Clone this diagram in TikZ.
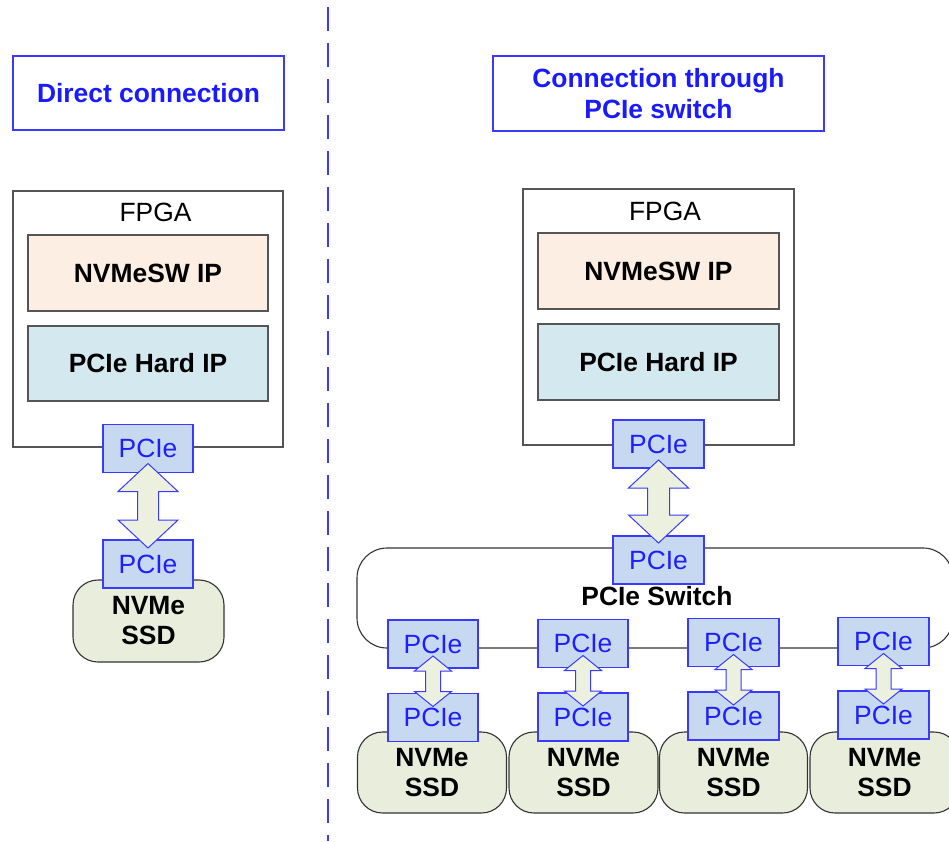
\documentclass[tikz,border=0pt]{standalone}
\usepackage{fontspec}
\setmainfont{Liberation Sans}
\usetikzlibrary{calc}
\definecolor{pciefill}{HTML}{C6D9F1}
\definecolor{pcieline}{HTML}{3A3AFF}
\definecolor{pcietext}{HTML}{1E1EFF}
\definecolor{arrfill}{HTML}{EBF1DE}
\definecolor{ssdfill}{HTML}{E9EEDC}
\definecolor{swfill}{HTML}{FDEEE3}
\definecolor{hardfill}{HTML}{D3E9EF}
\definecolor{titleblue}{HTML}{1A1AFF}
\definecolor{boxgray}{HTML}{555555}
\newcommand\biarrow[7]{%
  \path (#1.south) ++(0,-#3) coordinate (ta) (#2.north) ++(0,#4) coordinate (tb);
  \draw[arr] (ta) -- ++(#5,#7) -- ++(#6-#5,0) -- ($(tb)+(#6,-#7)$) -- ++(#5-#6,0) -- (tb)
    -- ++(-#5,-#7) -- ++(#5-#6,0) -- ($(ta)+(-#6,#7)$) -- ++(#6-#5,0) -- cycle;}
\tikzset{
  every node/.style={font=\fontsize{26.4}{31}\selectfont, inner sep=0pt, outer sep=0pt},
  titlebox/.style={draw=pcieline, line width=1.2pt, text=titleblue, align=center,
    font=\fontsize{26.4}{31}\selectfont\bfseries},
  fpgabox/.style={draw=boxgray, line width=1.4pt},
  ipbox/.style={draw=boxgray, line width=1.2pt, font=\fontsize{26.4}{31}\selectfont\bfseries},
  pciebox/.style={draw=pcieline, fill=pciefill, line width=1.3pt, text=pcietext,
    minimum width=90pt, minimum height=48pt},
  ssdbox/.style={draw=black!80, fill=ssdfill, line width=1.1pt, rounded corners=25pt,
    align=center, font=\fontsize{26.4}{30}\selectfont\bfseries},
  switchbox/.style={draw=black!80, line width=1.1pt, rounded corners=30pt},
  arr/.style={draw=pcieline, fill=arrfill, line width=1pt, line join=miter},
  divider/.style={draw=pcieline, line width=2.5pt, dash pattern=on 24pt off 12pt}
}
\begin{document}
\begin{tikzpicture}[x=1pt, y=-1pt]
\clip (0,0) rectangle (949,841);
\fill[white] (0,0) rectangle (949,841);

% titles
\node[titlebox, minimum width=271pt, minimum height=74pt] (t1) at (148.5,93) {Direct connection};
\node[titlebox, minimum width=331pt, minimum height=75pt] (t2) at (658.5,93.5) {Connection through\\PCIe switch};

% divider
\coordinate (d1) at (328,7);
\coordinate (d2) at (328,841);
\draw[divider] (d1) -- (d2);

% ---------- left: direct ----------
\node[fpgabox, minimum width=270pt, minimum height=256pt] (fpga1) at (148,319) {};
\node (fl1) at (155.5,212) {FPGA};
\node[ipbox, fill=swfill, minimum width=240pt, minimum height=76pt] (sw1) at (148,273) {NVMeSW IP};
\node[ipbox, fill=hardfill, minimum width=240pt, minimum height=75pt] (hd1) at (148,363.5) {PCIe Hard IP};
\node[pciebox] (p1a) at (148,448.5) {PCIe};
\node[ssdbox, minimum width=151pt, minimum height=82pt] (ssd1) at (148.5,621) {NVMe\\SSD};
\node[pciebox] (p1b) at (148,564) {PCIe};
\biarrow{p1a}{p1b}{9}{8}{30}{10.5}{28}

% ---------- right: switch ----------
\node[fpgabox, minimum width=271pt, minimum height=256pt] (fpga2) at (658.5,317) {};
\node (fl2) at (665,211) {FPGA};
\node[ipbox, fill=swfill, minimum width=241pt, minimum height=76pt] (sw2) at (658.5,271) {NVMeSW IP};
\node[ipbox, fill=hardfill, minimum width=241pt, minimum height=76pt] (hd2) at (658.5,362) {PCIe Hard IP};
\node[pciebox, minimum width=91pt] (p2a) at (658.5,444) {PCIe};
\node[switchbox, minimum width=596pt, minimum height=100pt] (sw) at (655,598) {};
\node[pciebox, minimum width=91pt] (p2b) at (658.5,560) {PCIe};
\node[font=\fontsize{26.4}{31}\selectfont\bfseries] (swl) at (657,596) {PCIe Switch};

\node[pciebox] (u1) at (433,644) {PCIe};
\node[pciebox] (u2) at (583,643.5) {PCIe};
\node[pciebox, minimum width=91pt] (u3) at (733.5,642.5) {PCIe};
\node[pciebox, minimum width=91pt] (u4) at (883.5,641.5) {PCIe};

\node[ssdbox, minimum width=149pt, minimum height=81pt] (s1) at (432,772.5) {NVMe\\SSD};
\node[ssdbox, minimum width=149pt, minimum height=81pt] (s2) at (583.5,772.5) {NVMe\\SSD};
\node[ssdbox, minimum width=148pt, minimum height=81pt] (s3) at (733.5,772.5) {NVMe\\SSD};
\node[ssdbox, minimum width=149pt, minimum height=81pt] (s4) at (884.5,772.5) {NVMe\\SSD};

\node[pciebox] (l1) at (433,717.5) {PCIe};
\node[pciebox] (l2) at (583,717) {PCIe};
\node[pciebox, minimum width=91pt] (l3) at (733.5,716) {PCIe};
\node[pciebox, minimum width=91pt] (l4) at (883.5,715) {PCIe};

\biarrow{p2a}{p2b}{8}{7}{30}{11}{28}
\biarrow{u1}{l1}{12}{13}{18.5}{7.5}{15}
\biarrow{u2}{l2}{12}{13}{18.5}{7.5}{15}
\biarrow{u3}{l3}{12}{13}{18.5}{7.5}{15}
\biarrow{u4}{l4}{12}{13}{18.5}{7.5}{15}
\end{tikzpicture}
\end{document}
